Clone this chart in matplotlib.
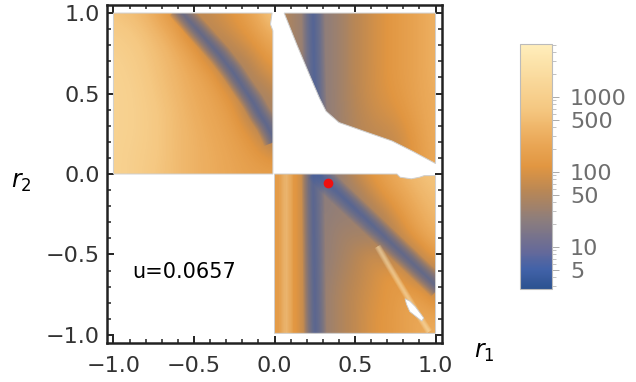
import numpy as np
import matplotlib
matplotlib.use("Agg")
import matplotlib.pyplot as plt
from matplotlib.colors import LinearSegmentedColormap, LogNorm, Normalize
from matplotlib.patches import Polygon
from matplotlib.ticker import MultipleLocator, NullFormatter

plt.rcParams['font.family'] = ['DejaVu Sans']
plt.rcParams['mathtext.fontset'] = 'dejavusans'

# --- values (log10 of the plotted quantity) ---
u_label = "u=0.0657"
best_r1, best_r2 = 0.33, -0.055

# coarse samples every 0.125; rows run from the top of each block down
tl_log = [  # r1 -1..0, r2 1..0
    [2.8, 2.7, 2.45, 2.0, 1.75, 1.9, 2.1, 2.4, 2.95],
    [2.95, 2.85, 2.65, 2.35, 1.7, 1.75, 1.95, 2.2, 2.6],
    [3.05, 2.95, 2.75, 2.55, 2.2, 1.55, 1.7, 1.95, 2.3],
    [3.1, 3.0, 2.8, 2.6, 2.4, 2.1, 1.4, 1.75, 2.05],
    [3.1, 3.05, 2.85, 2.65, 2.45, 2.3, 1.9, 1.45, 1.8],
    [3.1, 3.05, 2.9, 2.7, 2.5, 2.35, 2.15, 1.5, 1.6],
    [3.1, 3.05, 2.9, 2.7, 2.55, 2.4, 2.25, 1.95, 1.45],
    [3.1, 3.0, 2.9, 2.7, 2.55, 2.45, 2.3, 2.15, 1.9],
    [3.1, 3.0, 2.85, 2.7, 2.55, 2.45, 2.35, 2.25, 2.25],
]
tr_log = [  # r1 0..1, r2 1..0
    [1.85, 1.55, 1.3, 1.45, 1.75, 1.95, 2.15, 2.3, 2.55],
    [1.85, 1.55, 1.3, 1.45, 1.75, 1.95, 2.15, 2.3, 2.55],
    [1.85, 1.55, 1.3, 1.45, 1.75, 1.95, 2.15, 2.3, 2.55],
    [1.85, 1.55, 1.3, 1.45, 1.75, 1.95, 2.15, 2.3, 2.55],
    [1.85, 1.55, 1.3, 1.45, 1.75, 1.95, 2.1, 2.3, 2.5],
    [1.85, 1.55, 1.3, 1.45, 1.7, 1.9, 2.0, 2.25, 2.5],
    [1.85, 1.55, 1.3, 1.45, 1.7, 1.8, 1.85, 2.15, 2.5],
    [1.85, 1.55, 1.3, 1.45, 1.7, 1.75, 1.8, 2.1, 2.45],
    [1.85, 1.55, 1.3, 1.45, 1.7, 1.75, 1.8, 2.1, 2.45],
]
br_log = [  # r1 0..1, r2 0..-1
    [2.15, 2.3, 1.3, 1.3, 1.85, 2.15, 2.45, 2.7, 2.85],
    [2.15, 2.3, 1.3, 1.4, 1.5, 1.95, 2.25, 2.55, 2.75],
    [2.15, 2.3, 1.3, 1.45, 1.4, 1.6, 2.0, 2.4, 2.65],
    [2.15, 2.3, 1.3, 1.5, 1.6, 1.45, 1.7, 2.2, 2.55],
    [2.15, 2.3, 1.3, 1.5, 1.7, 1.95, 1.55, 1.65, 2.25],
    [2.15, 2.3, 1.3, 1.55, 1.75, 1.95, 2.2, 1.65, 1.6],
    [2.15, 2.3, 1.3, 1.6, 1.8, 2.0, 2.15, 2.3, 1.8],
    [2.15, 2.3, 1.3, 1.6, 1.8, 2.05, 2.15, 2.4, 2.3],
    [2.15, 2.3, 1.3, 1.6, 1.8, 2.05, 2.15, 2.35, 2.55],
]

# narrow minima (blue lines) and pale ridges, as (r1, r2) traces
tl_valley = [(-0.60, 1.03), (-0.51, 0.93), (-0.42, 0.83), (-0.34, 0.74),
             (-0.26, 0.635), (-0.19, 0.53), (-0.135, 0.45), (-0.09, 0.37),
             (-0.05, 0.31), (-0.02, 0.25), (0.0, 0.20)]
tr_valley = [(0.24, 1.02), (0.245, 0.7), (0.25, 0.5), (0.255, 0.4)]
br_valley_v = [(0.238, 0.02), (0.245, -0.5), (0.253, -1.02)]
br_valley_d = [(0.26, 0.02), (0.33, -0.055), (0.59, -0.30), (0.80, -0.50),
               (1.02, -0.71)]
br_ridge = [(0.64, -0.45), (0.71, -0.57), (0.77, -0.67), (0.83, -0.77),
            (0.89, -0.87), (0.96, -0.98)]
br_ridge_left = [(0.07, 0.0), (0.07, -1.0)]

# where the quantity is defined (r1, r2)
region_top_left = [(-1, 0), (-0.01, 0), (-0.01, 0.89), (-0.025, 0.93),
                   (-0.015, 1.0), (-1, 1.0)]
region_top_right = [(0.06, 1.0), (0.14, 0.80), (0.22, 0.61), (0.28, 0.47),
                    (0.32, 0.39), (0.40, 0.32), (0.50, 0.285), (0.60, 0.25),
                    (0.73, 0.205), (0.86, 0.14), (1.0, 0.065), (1.0, 1.0)]
region_bottom_right = [(0, 0), (0.76, 0), (0.78, -0.02), (0.85, -0.03),
                       (0.90, -0.02), (0.93, -0.01), (1.0, -0.01),
                       (1.0, -0.99), (0, -0.99)]
hole_bottom_right = [(0.81, -0.775), (0.84, -0.79), (0.875, -0.825),
                     (0.926, -0.894), (0.915, -0.914), (0.84, -0.855),
                     (0.82, -0.81)]

cbar_ticks = [5, 10, 50, 100, 500, 1000]
cbar_min, cbar_max = 2.75, 5100

# colour scale, from bottom of the bar to the top
scale_colors = ['#2c5290', '#4262a8', '#64699a', '#8c7d7d', '#b98755',
                '#e19641', '#ebaa5a', '#f5c882', '#fadca0', '#ffeebb']
scale_stops = [0.0, 0.08, 0.15, 0.28, 0.40, 0.50, 0.61, 0.74, 0.88, 1.0]

lo, hi = np.log10(cbar_min), np.log10(cbar_max)
cmap = LinearSegmentedColormap.from_list("density", list(zip(scale_stops, scale_colors)))
lin_norm = Normalize(lo, hi)

fig = plt.figure(figsize=(6.36, 3.82), dpi=100)
ax = fig.add_axes([107 / 636, 39 / 382, 335 / 636, 338 / 382])


def clip_to(artist, region):
    artist.set_clip_path(Polygon(region, closed=True, transform=ax.transData))


def draw_block(vals, x0, x1, y0, y1, region):
    vals = np.array(vals)
    ny, nx = vals.shape
    hx = (x1 - x0) / (nx - 1) / 2
    hy = (y1 - y0) / (ny - 1) / 2
    im = ax.imshow(vals, cmap=cmap, norm=lin_norm, origin='upper',
                   extent=(x0 - hx, x1 + hx, y0 - hy, y1 + hy),
                   interpolation='bicubic', aspect='auto', zorder=1)
    clip_to(im, region)
    ax.add_patch(Polygon(region, closed=True, fill=False, ec='#d0d0d0',
                         lw=0.7, zorder=3))


def draw_trace(points, region, color, widest, alpha, n=10):
    # many stacked translucent strokes give a soft-edged line
    xs, ys = zip(*points)
    for w in np.linspace(widest, 1.0, n):
        ln, = ax.plot(xs, ys, color=color, lw=w, alpha=alpha,
                      solid_capstyle='butt', solid_joinstyle='round', zorder=2)
        clip_to(ln, region)


draw_block(tl_log, -1, 0, 0, 1, region_top_left)
draw_block(tr_log, 0, 1, 0, 1, region_top_right)
draw_block(br_log, 0, 1, -1, 0, region_bottom_right)

blue = '#3d5ea6'
pale = '#fde6b6'
draw_trace(tl_valley, region_top_left, blue, 16, 0.1)
draw_trace(tr_valley, region_top_right, blue, 16, 0.1)
draw_trace(br_valley_v, region_bottom_right, blue, 16, 0.1)
draw_trace(br_valley_d, region_bottom_right, blue, 16, 0.1)
draw_trace(br_ridge, region_bottom_right, pale, 5, 0.1, n=8)
draw_trace(br_ridge_left, region_bottom_right, pale, 10, 0.07, n=6)

ax.add_patch(Polygon(hole_bottom_right, closed=True, fc='white',
                     ec='#cccccc', lw=0.6, zorder=3))

ax.plot([best_r1], [best_r2], 'o', color='#f01010', ms=7, mec='none', zorder=5)
ax.text(-0.56, -0.61, u_label, fontsize=15, ha='center', va='center', color='black')

ax.set_xlim(-1.04, 1.04)
ax.set_ylim(-1.05, 1.05)
ax.xaxis.set_major_locator(MultipleLocator(0.5))
ax.yaxis.set_major_locator(MultipleLocator(0.5))
ax.xaxis.set_minor_locator(MultipleLocator(0.1))
ax.yaxis.set_minor_locator(MultipleLocator(0.1))
ax.xaxis.set_major_formatter(lambda v, p: f"{v:.1f}".replace("-", "\u2212"))
ax.yaxis.set_major_formatter(lambda v, p: f"{v:.1f}".replace("-", "\u2212"))
ax.tick_params(which='both', direction='in', top=True, right=True,
               color='#222222', labelcolor='#333333', labelsize=16)
ax.tick_params(which='major', length=5, width=1.4)
ax.tick_params(which='minor', length=3, width=1.1)
ax.tick_params(axis='x', pad=9)
ax.tick_params(axis='y', pad=5)
for s in ax.spines.values():
    s.set_linewidth(1.8)
    s.set_color('#222222')

fig.text(21 / 636, 1 - 182 / 382, r'$r_2$', fontsize=17, ha='center', va='center')
fig.text(484 / 636, 1 - 352 / 382, r'$r_1$', fontsize=17, ha='center', va='center')

cax = fig.add_axes([520 / 636, 93 / 382, 32 / 636, 245 / 382])
sm = plt.cm.ScalarMappable(norm=LogNorm(cbar_min, cbar_max), cmap=cmap)
cb = fig.colorbar(sm, cax=cax)
cb.set_ticks(cbar_ticks)
cb.set_ticklabels([str(t) for t in cbar_ticks])
cb.outline.set_edgecolor('#bbbbbb')
cb.outline.set_linewidth(0.8)
cax.tick_params(which='both', color='#aaaaaa', labelcolor='#6e6e6e', labelsize=16)
cax.tick_params(which='major', length=5, width=0.7, pad=8)
cax.tick_params(which='minor', length=3, width=0.5)
cax.yaxis.set_minor_formatter(NullFormatter())

fig.savefig("out.png", dpi=100)
